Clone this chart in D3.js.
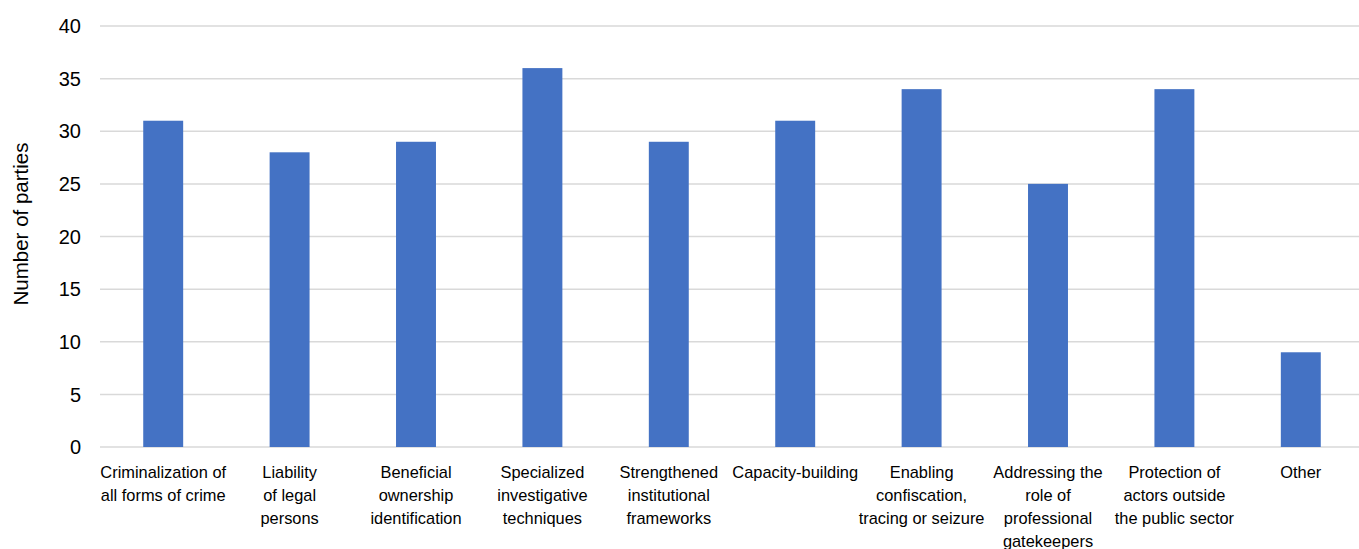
<!DOCTYPE html>
<html>
<head>
<meta charset="utf-8">
<script src="https://cdn.jsdelivr.net/npm/d3@7"></script>
<style>
  body { margin: 0; background: #fff; }
  text { font-family: "Liberation Sans", Arial, sans-serif; fill: #000; }
</style>
</head>
<body>
<svg id="chart" width="1359" height="549"></svg>
<script>
var categories = [
  ['Criminalization of', 'all forms of crime'],
  ['Liability', 'of legal', 'persons'],
  ['Beneficial', 'ownership', 'identification'],
  ['Specialized', 'investigative', 'techniques'],
  ['Strengthened', 'institutional', 'frameworks'],
  ['Capacity-building'],
  ['Enabling', 'confiscation,', 'tracing or seizure'],
  ['Addressing the', 'role of', 'professional', 'gatekeepers'],
  ['Protection of', 'actors outside', 'the public sector'],
  ['Other']
];
var values = [31, 28, 29, 36, 29, 31, 34, 25, 34, 9];
var yTicks = [0, 5, 10, 15, 20, 25, 30, 35, 40];
var yTitle = 'Number of parties';

(function () {
  var svg = d3.select('#chart');
  var plotLeft = 100, plotRight = 1364, plotTop = 26, plotBottom = 447;

  var x = d3.scaleBand()
    .domain(d3.range(categories.length))
    .range([plotLeft, plotRight])
    .paddingInner(0.684)
    .paddingOuter(0.342);

  var y = d3.scaleLinear().domain([0, 40]).range([plotBottom, plotTop]);

  svg.append('g').selectAll('line')
    .data(yTicks)
    .enter().append('line')
    .attr('x1', plotLeft).attr('x2', plotRight)
    .attr('y1', function (d) { return y(d); })
    .attr('y2', function (d) { return y(d); })
    .attr('stroke', '#d9d9d9')
    .attr('stroke-width', 1.5);

  svg.append('g').selectAll('text')
    .data(yTicks)
    .enter().append('text')
    .attr('x', 81)
    .attr('y', function (d) { return y(d); })
    .attr('dy', '0.36em')
    .attr('text-anchor', 'end')
    .style('font-size', '20px')
    .text(function (d) { return d; });

  svg.append('g').selectAll('rect')
    .data(values)
    .enter().append('rect')
    .attr('x', function (d, i) { return x(i); })
    .attr('width', x.bandwidth())
    .attr('y', function (d) { return y(d); })
    .attr('height', function (d) { return y(0) - y(d); })
    .attr('fill', '#4472c4');

  var labels = svg.append('g').selectAll('text')
    .data(categories)
    .enter().append('text')
    .attr('text-anchor', 'middle')
    .style('font-size', '16.4px')
    .attr('transform', function (d, i) {
      return 'translate(' + (x(i) + x.bandwidth() / 2) + ',478)';
    });

  labels.selectAll('tspan')
    .data(function (d) { return d; })
    .enter().append('tspan')
    .attr('x', 0)
    .attr('y', function (d, i) { return i * 23; })
    .text(function (d) { return d; });

  svg.append('text')
    .attr('transform', 'translate(28,224) rotate(-90)')
    .attr('text-anchor', 'middle')
    .style('font-size', '20.5px')
    .text(yTitle);
})();
</script>
</body>
</html>
